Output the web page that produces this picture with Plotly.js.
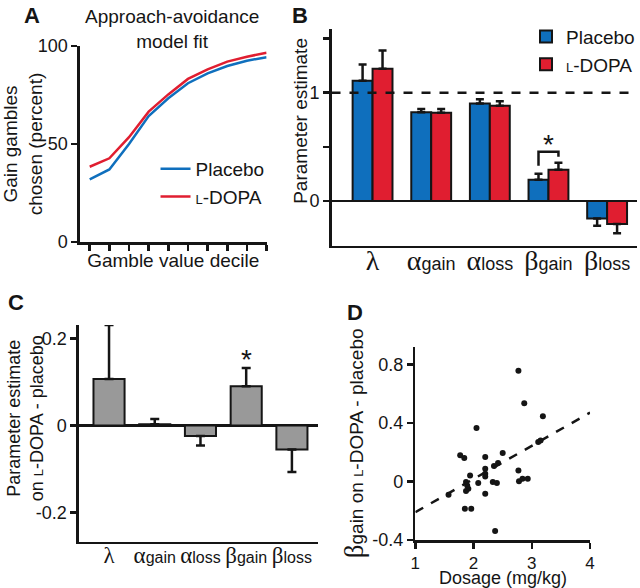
<!DOCTYPE html>
<html>
<head>
<meta charset="utf-8">
<script src="https://cdn.plot.ly/plotly-3.0.1.min.js"></script>
<style>html,body{margin:0;padding:0;background:#fff}</style>
</head>
<body>
<div id="fig" style="width:640px;height:588px"></div>
<script>
// Panel A: model fit, percent gain gambles chosen per value decile
const deciles = [1, 2, 3, 4, 5, 6, 7, 8, 9, 10];
const fitPlacebo = [32.0, 37.0, 50.0, 64.3, 73.3, 81.0, 86.0, 89.8, 92.5, 94.3];
const fitLdopa = [38.4, 42.7, 53.5, 66.5, 75.3, 83.2, 88.1, 92.0, 94.5, 96.6];

// Panels B and C: parameter estimates
const paramSymbols = ['λ', 'α', 'α', 'β', 'β'];
const paramSubs = ['', 'gain', 'loss', 'gain', 'loss'];
const placeboEst = [1.11, 0.82, 0.90, 0.197, -0.16];
const placeboErr = [0.15, 0.03, 0.04, 0.055, 0.068];
const ldopaEst = [1.22, 0.815, 0.88, 0.289, -0.212];
const ldopaErr = [0.17, 0.035, 0.04, 0.065, 0.086];
const diffEst = [0.107, 0.003, -0.024, 0.090, -0.055];
const diffErr = [0.124, 0.012, 0.022, 0.042, 0.052];
const refLine = 1;

// Panel D: dosage vs change in beta gain
const dose = [2.77, 2.87, 3.19, 2.05, 1.77, 1.84, 2.20, 2.50, 2.42, 2.35, 2.20, 2.20, 2.20,
  1.94, 2.08, 1.87, 1.89, 1.91, 1.87, 1.57, 2.20, 1.85, 1.96, 2.37, 2.33, 2.40,
  3.11, 3.15, 2.77, 2.78, 2.84, 2.93];
const dBetaGain = [0.756, 0.534, 0.445, 0.365, 0.178, 0.16, 0.167, 0.194, 0.125, 0.105, 0.087, 0.053, 0.034,
  0.041, -0.011, -0.004, -0.027, -0.05, -0.066, -0.091, -0.084, -0.187, -0.187, -0.338, -0.004, -0.011,
  0.27, 0.28, 0.075, 0.002, 0.018, 0.018];
const trendX = [1, 4];
const trendY = [-0.21, 0.47];

const BLUE = '#0f6fbd';
const RED = '#e01e30';
const INK = '#151515';
const LDOPA = '<span style="font-size:13px">L</span>-DOPA';

function paramLabels(symSize, subSize) {
  return paramSymbols.map((s, i) =>
    '<span style="font-family:\'Liberation Serif\';font-size:' + symSize + 'px">' + s + '</span>' +
    '<span style="font-size:' + subSize + 'px">' + paramSubs[i] + '</span>');
}
const labelsB = paramLabels(28, 18);
const labelsC = paramLabels(23, 16);

// one-sided error bars, pointing away from zero
const upErr = (v, e) => v.map((x, i) => x >= 0 ? e[i] : 0);
const downErr = (v, e) => v.map((x, i) => x < 0 ? e[i] : 0);

function errY(v, e, w) {
  return {type: 'data', symmetric: false, array: upErr(v, e), arrayminus: downErr(v, e),
    color: INK, thickness: 2.5, width: w};
}

var data = [
  {x: deciles, y: fitPlacebo, type: 'scatter', mode: 'lines', name: 'Placebo',
   line: {color: BLUE, width: 2.5}, xaxis: 'x', yaxis: 'y', legend: 'legend'},
  {x: deciles, y: fitLdopa, type: 'scatter', mode: 'lines', name: LDOPA,
   line: {color: RED, width: 2.5}, xaxis: 'x', yaxis: 'y', legend: 'legend'},

  {x: labelsB, y: placeboEst, type: 'bar', name: 'Placebo', xaxis: 'x2', yaxis: 'y2',
   marker: {color: BLUE, line: {color: INK, width: 2}}, error_y: errY(placeboEst, placeboErr, 4),
   legend: 'legend2'},
  {x: labelsB, y: ldopaEst, type: 'bar', name: LDOPA, xaxis: 'x2', yaxis: 'y2',
   marker: {color: RED, line: {color: INK, width: 2}}, error_y: errY(ldopaEst, ldopaErr, 4),
   legend: 'legend2'},

  {x: labelsC, y: diffEst, type: 'bar', showlegend: false, xaxis: 'x3', yaxis: 'y3',
   marker: {color: '#999999', line: {color: INK, width: 2}}, error_y: errY(diffEst, diffErr, 4.5)},

  {x: dose, y: dBetaGain, type: 'scatter', mode: 'markers', showlegend: false, xaxis: 'x4', yaxis: 'y4',
   marker: {color: INK, size: 6}},
  {x: trendX, y: trendY, type: 'scatter', mode: 'lines', showlegend: false, xaxis: 'x4', yaxis: 'y4',
   line: {color: INK, width: 2.5, dash: 'dash'}}
];

function ax(extra) {
  return Object.assign({
    showline: true, linecolor: INK, linewidth: 2.5, ticks: 'outside', ticklen: 6,
    tickwidth: 2.5, tickcolor: INK, showgrid: false, zeroline: false, fixedrange: true,
    tickfont: {size: 18, color: INK}
  }, extra);
}
const titleFont = {size: 19, color: INK};

// significance bracket over beta gain in B
const bIdx = 3, half = 0.17, bracketTop = 0.455;
const legL = placeboEst[bIdx] + placeboErr[bIdx] + 0.075;
const legR = ldopaEst[bIdx] + ldopaErr[bIdx] + 0.055;

function letter(t, x, y) {
  return {text: '<b>' + t + '</b>', xref: 'paper', yref: 'paper', x: x, y: y,
    xanchor: 'center', yanchor: 'middle', showarrow: false, font: {size: 22, color: INK}};
}

function sideTitle(t, x, y, size) {
  return {text: t, xref: 'paper', yref: 'paper', x: x, y: y, textangle: -90,
    xanchor: 'center', yanchor: 'middle', showarrow: false, font: {size: size, color: INK}};
}

var layout = {
  width: 640, height: 588,
  margin: {l: 0, r: 0, t: 0, b: 0},
  paper_bgcolor: '#fff', plot_bgcolor: 'rgba(0,0,0,0)',
  font: {family: 'Liberation Sans, Arial, sans-serif', color: INK},
  barmode: 'group',
  xaxis: ax({domain: [0.125, 0.4172], range: [0.5, 10], tickvals: deciles, showticklabels: false, anchor: 'y',
    title: {text: 'Gamble value decile', font: titleFont, standoff: 4}}),
  yaxis: ax({domain: [0.5884, 0.9218], range: [0, 100], tickvals: [0, 50, 100], anchor: 'x',
    title: {text: 'Gain gambles<br>chosen (percent)', font: titleFont, standoff: 6}}),
  xaxis2: ax({domain: [0.5188, 0.9969], range: [-0.70, 4.51], ticks: '', type: 'category', anchor: 'y2',
    tickfont: {size: 18, color: INK}}),
  yaxis2: ax({domain: [0.5821, 0.9502], range: [-0.412, 1.585], tickvals: [0, 0.5, 1, 1.5], anchor: 'x2',
    ticktext: ['0', '', '1', ''], zeroline: true, zerolinecolor: INK, zerolinewidth: 2.5}),
  xaxis3: ax({domain: [0.1234, 0.4969], range: [-0.66, 4.56], ticks: '', type: 'category', anchor: 'y3',
    tickfont: {size: 16, color: INK}}),
  yaxis3: ax({domain: [0.0787, 0.4473], range: [-0.267, 0.231], tickvals: [-0.2, 0, 0.2], anchor: 'x3',
    ticktext: ['-0.2', '0', '0.2'], zeroline: true, zerolinecolor: INK, zerolinewidth: 2.5}),
  xaxis4: ax({domain: [0.65, 0.9234], range: [1, 4], tickvals: [1, 2, 3, 4], anchor: 'y4',
    tickfont: {size: 17, color: INK}}),
  yaxis4: ax({domain: [0.0816, 0.4104], range: [-0.4, 0.92], tickvals: [-0.4, 0, 0.4, 0.8], anchor: 'x4',
    ticktext: ['-0.4', '0', '0.4', '0.8'],
    title: {text: '<span style="font-family:\'Liberation Serif\';font-size:27px">β</span>gain on ' + LDOPA + ' - placebo',
      font: titleFont, standoff: 4}}),
  bargap: 0.32,
  legend: {x: 0.243, y: 0.745, xanchor: 'left', yanchor: 'top', font: {size: 19, color: INK},
    bgcolor: 'rgba(0,0,0,0)', tracegroupgap: 0},
  legend2: {x: 0.823, y: 0.97, xanchor: 'left', yanchor: 'top', font: {size: 19, color: INK},
    bgcolor: 'rgba(0,0,0,0)', tracegroupgap: 0},
  shapes: [
    {type: 'line', xref: 'x2 domain', yref: 'y2', x0: 0, x1: 1, y0: refLine, y1: refLine,
     line: {color: INK, width: 2.5, dash: 'dash'}},
    {type: 'path', xref: 'x2', yref: 'y2',
     path: 'M' + (bIdx - half) + ',' + legL + ' L' + (bIdx - half) + ',' + bracketTop +
           ' L' + (bIdx + half) + ',' + bracketTop + ' L' + (bIdx + half) + ',' + legR,
     line: {color: INK, width: 2.5}}
  ],
  annotations: [
    {text: 'Approach-avoidance<br>model fit', xref: 'paper', yref: 'paper', x: 0.269, y: 0.951,
     xanchor: 'center', yanchor: 'middle', showarrow: false, font: {size: 19, color: INK}},
    sideTitle('Parameter estimate', 0.469, 0.794, 19),
    sideTitle('Parameter estimate<br>on ' + LDOPA + ' - placebo', 0.040, 0.288, 18),
    {text: 'Dosage (mg/kg)', xref: 'x4 domain', yref: 'paper', x: 0.5, y: 0, xanchor: 'center',
     yanchor: 'bottom', yshift: -2, showarrow: false, font: {size: 18, color: INK}},
    letter('A', 0.05, 0.974),
    letter('B', 0.469, 0.974),
    letter('C', 0.025, 0.485),
    letter('D', 0.555, 0.468),
    {text: '*', xref: 'x2', yref: 'y2', x: bIdx, y: bracketTop, yanchor: 'bottom', yshift: -10,
     showarrow: false, font: {size: 28, color: INK}},
    {text: '*', xref: 'x3', yref: 'y3', x: bIdx, y: diffEst[bIdx] + diffErr[bIdx], yanchor: 'bottom',
     yshift: -9, showarrow: false, font: {size: 28, color: INK}}
  ]
};

Plotly.newPlot('fig', data, layout, {displayModeBar: false, staticPlot: true});
</script>
</body>
</html>
